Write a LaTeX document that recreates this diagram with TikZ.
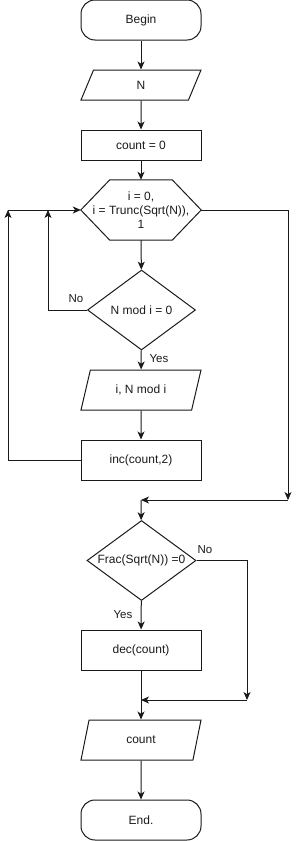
\documentclass[tikz,border=0pt]{standalone}
\usepackage{fontspec}
\setmainfont{Liberation Sans}
\usepackage{tikz}
\usetikzlibrary{arrows.meta,positioning,shapes.geometric}
\definecolor{cink}{HTML}{1A1A1A}
\tikzset{>={Stealth[length=8pt,width=7pt,inset=2.2pt]},
  ln/.style={draw=cink,line width=1pt},
  term/.style={ln,rectangle,rounded corners=14pt,minimum width=120pt,minimum height=40pt,align=center},
  proc/.style={ln,rectangle,minimum width=120pt,minimum height=#1,align=center},
  proc/.default=40pt,
  io/.style={ln,trapezium,trapezium stretches body,trapezium left angle=#1,trapezium right angle=180-#1,
    minimum width=120pt,inner xsep=2pt},
  dec/.style={ln,diamond,aspect=1.35,inner sep=0pt,minimum width=108pt,minimum height=80pt},
  lbl/.style={font=\fontsize{11.5}{13}\selectfont,text=cink}}

\begin{document}
\begin{tikzpicture}[x=1pt,y=-1pt,font=\fontsize{12}{14}\selectfont,text=cink]
\useasboundingbox (0,0) rectangle (296,841);

% ================= setup =================
\node[term] (begin) at (141,20) {Begin};
\node[io=50,minimum height=30pt] (inN) at (141,85) {N};
\node[proc=30pt] (cnt) at (141,145) {count = 0};

% ================= loop over i =================
\node[minimum width=120pt,minimum height=60pt,align=center,inner sep=0pt] (loop) at (141,210) {i = 0,\\ i = Trunc(Sqrt(N)),\\ 1};
\draw[ln] (loop.west) -- ([xshift=29pt]loop.north west) -- ([xshift=-29pt]loop.north east) -- (loop.east)
  -- ([xshift=-29pt]loop.south east) -- ([xshift=29pt]loop.south west) -- cycle;
\node[dec] (divq) at (141.5,310) {N mod i = 0};
\node[io=61,minimum height=40pt] (outi) at (141,390) {i, N mod i};
\node[proc] (inc) at (141,460) {inc(count,2)};
\coordinate (backA) at (48,210);
\coordinate (backB) at (8,210);
\coordinate (exitR) at (288,500);
\coordinate (joinA) at (141,500);

\draw[ln,->] (begin) -- (inN);
\draw[ln,->] (inN) -- (cnt);
\draw[ln,->] (cnt) -- (loop);
\draw[ln,->] (loop) -- (divq);
\draw[ln,->] (divq) -- (outi);
\draw[ln,->] (outi) -- (inc);
\draw[ln,->] (divq.west) -| (backA);
\draw[ln,->] (inc.west) -| (backB);
\draw[ln,->] (backB) -- (loop.west);
\draw[ln,->] (loop.east) -| (exitR);
\draw[ln,->] (exitR) -- (joinA);
\node[lbl] (noA) at (76,299) {No};
\node[lbl] (yesA) at (159,359) {Yes};

% ================= square check =================
\node[dec,minimum width=109pt] (sqq) at (141.5,560.5) {Frac(Sqrt(N)) =0};
\node[proc] (decc) at (141,650) {dec(count)};
\node[io=61,minimum height=40pt] (outc) at (141,740) {count};
\node[term] (fin) at (141,820) {End.};
\coordinate (noB) at (247,700);
\coordinate (joinB) at (141,700);

\draw[ln,->] (joinA) -- (sqq);
\draw[ln,->] (sqq) -- (decc);
\draw[ln] (decc) -- (joinB);
\draw[ln,->] (sqq.east) -| (noB);
\draw[ln,->] (noB) -- (joinB);
\draw[ln,->] (joinB) -- (outc);
\draw[ln,->] (outc) -- (fin);
\node[lbl] (noC) at (205,550) {No};
\node[lbl] (yesC) at (123,615) {Yes};

\end{tikzpicture}
\end{document}
